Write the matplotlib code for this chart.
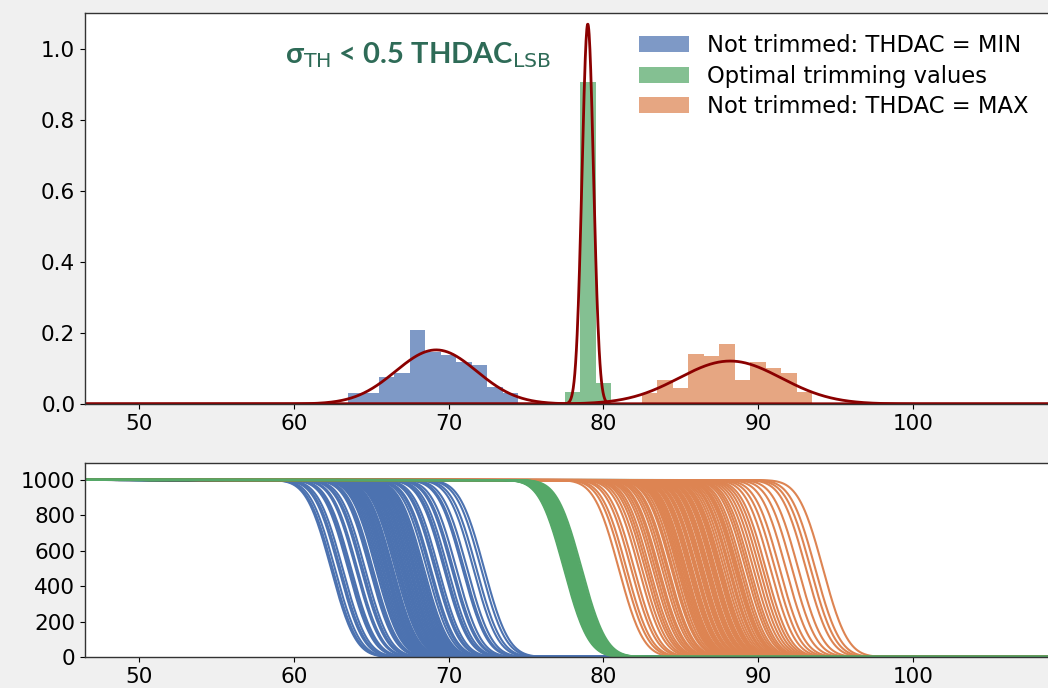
import numpy as np
import matplotlib
matplotlib.use("Agg")
import matplotlib.pyplot as plt
from math import erfc, sqrt

BG = "#f0f0f0"
BLUE, GREEN, ORANGE = "#4c72b0", "#55a868", "#dd8452"
FIT = "#8b0000"
NOTE = "#2e6b57"

plt.rcParams.update({
    "figure.facecolor": BG, "font.size": 15.5,
    "axes.edgecolor": "#333333", "axes.linewidth": 1.0,
})

# --- histogram data (density, 1-unit bins) ---
min_edges = np.arange(63.5, 75.0, 1.0)
min_heights = [0.030, 0.030, 0.076, 0.087, 0.208, 0.146, 0.138, 0.118, 0.110, 0.048, 0.030]
opt_edges = np.arange(77.5, 81.0, 1.0)
opt_heights = [0.034, 0.907, 0.059]
max_edges = np.arange(82.5, 94.0, 1.0)
max_heights = [0.030, 0.068, 0.045, 0.141, 0.135, 0.169, 0.068, 0.118, 0.101, 0.087, 0.034]

# gaussian fits: (mean, sigma)
fit_min = (69.2, 2.62)
fit_opt = (79.0, 0.373)
fit_max = (88.2, 3.30)

# --- S-curve thresholds (50% point) ---
th_min = [62.4, 62.5, 62.65, 62.9, 63.0, 63.15, 63.5, 63.6, 63.7, 64.0, 64.1, 64.35,
          64.45, 64.6, 64.9, 65.0, 65.1, 65.3, 65.4, 65.5, 65.6, 65.7, 65.8, 65.9, 65.95,
          66.05, 66.1, 66.2, 66.3, 66.35, 66.4, 66.55, 66.65, 66.75, 66.8, 66.9, 67.0,
          67.1, 67.15, 67.25, 67.35, 67.45, 67.5, 67.6, 67.7, 67.8, 67.85, 67.95, 68.05,
          68.15, 68.2, 68.3, 68.4, 68.6, 68.75, 68.85, 69.1, 69.2, 69.35, 69.7, 69.8,
          69.95, 70.2, 70.3, 70.5, 70.9, 71.0, 71.2, 71.6, 71.8, 72.1, 72.3]
th_opt = [77.45, 77.5, 77.55, 77.6, 77.65, 77.7, 77.75, 77.8, 77.85, 77.9, 77.95, 78.0,
          78.05, 78.1, 78.15, 78.2, 78.25, 78.3, 78.35, 78.4, 78.45, 78.5, 78.6]
th_max = [81.0, 81.3, 81.5, 81.8, 82.0, 82.3, 82.5, 82.7, 82.85, 83.0, 83.2, 83.35,
          83.5, 83.6, 83.8, 83.95, 84.1, 84.2, 84.4, 84.5, 84.65, 84.8, 84.9, 85.0, 85.1,
          85.2, 85.3, 85.35, 85.5, 85.6, 85.7, 85.75, 85.9, 86.0, 86.05, 86.2, 86.3,
          86.4, 86.45, 86.6, 86.7, 86.8, 86.85, 87.0, 87.1, 87.2, 87.25, 87.4, 87.5,
          87.6, 87.65, 87.8, 87.95, 88.1, 88.2, 88.35, 88.5, 88.6, 88.7, 88.85, 89.0,
          89.2, 89.35, 89.5, 89.7, 89.9, 90.1, 90.3, 90.5, 90.8, 91.1, 91.4, 91.8,
          92.2, 92.6, 93.1, 93.4, 93.7, 94.2]
noise = 1.25
n_inj = 1000

fig = plt.figure(figsize=(10.48, 6.88), dpi=100)
ax1 = fig.add_axes([0.0811, 0.4128, 0.93, 0.568])
ax2 = fig.add_axes([0.0811, 0.0451, 0.93, 0.282])

labels = ["Not trimmed: THDAC = MIN", "Optimal trimming values", "Not trimmed: THDAC = MAX"]
for edges, h, c, lab in [(min_edges, min_heights, BLUE, labels[0]),
                         (opt_edges, opt_heights, GREEN, labels[1]),
                         (max_edges, max_heights, ORANGE, labels[2])]:
    ax1.hist(edges[:-1], bins=edges, weights=h, histtype="stepfilled",
             color=c, alpha=0.72, label=lab)

xs = np.linspace(40, 115, 3000)
for mu, sig in [fit_min, fit_max, fit_opt]:
    ax1.plot(xs, np.exp(-0.5 * ((xs - mu) / sig) ** 2) / (sig * np.sqrt(2 * np.pi)),
             color=FIT, lw=2)

ax1.set_xlim(46.5, 109.5)
ax1.set_ylim(0, 1.1)
ax1.set_xticks([50, 60, 70, 80, 90, 100])
ax1.set_yticks([0.0, 0.2, 0.4, 0.6, 0.8, 1.0])
ax1.legend(loc="upper right", bbox_to_anchor=(1049 / 1048, 0.98), bbox_transform=fig.transFigure,
           frameon=False, fontsize=16.3, handlelength=2.2, labelspacing=0.33)
ax1.text(418 / 1048, 1 - 55 / 688, "σ$_{\\mathrm{TH}}$ < 0.5 THDAC$_{\\mathrm{LSB}}$",
         transform=fig.transFigure, ha="center", va="center", fontsize=21,
         color=NOTE, family="Lato", fontweight="bold")

# --- S-curves ---
xc = np.linspace(40, 115, 1200)
def scurve(th):
    return np.array([n_inj * 0.5 * erfc((x - th) / (sqrt(2) * noise)) for x in xc])

for ths, c in [(th_min, BLUE), (th_max, ORANGE), (th_opt, GREEN)]:
    for th in ths:
        ax2.plot(xc, scurve(th), color=c, lw=1.5)

ax2.set_xlim(46.5, 109.5)
ax2.set_ylim(0, 1096)
ax2.set_xticks([50, 60, 70, 80, 90, 100])
ax2.set_yticks([0, 200, 400, 600, 800, 1000])

fig.savefig("out.png", dpi=100, facecolor=BG)
